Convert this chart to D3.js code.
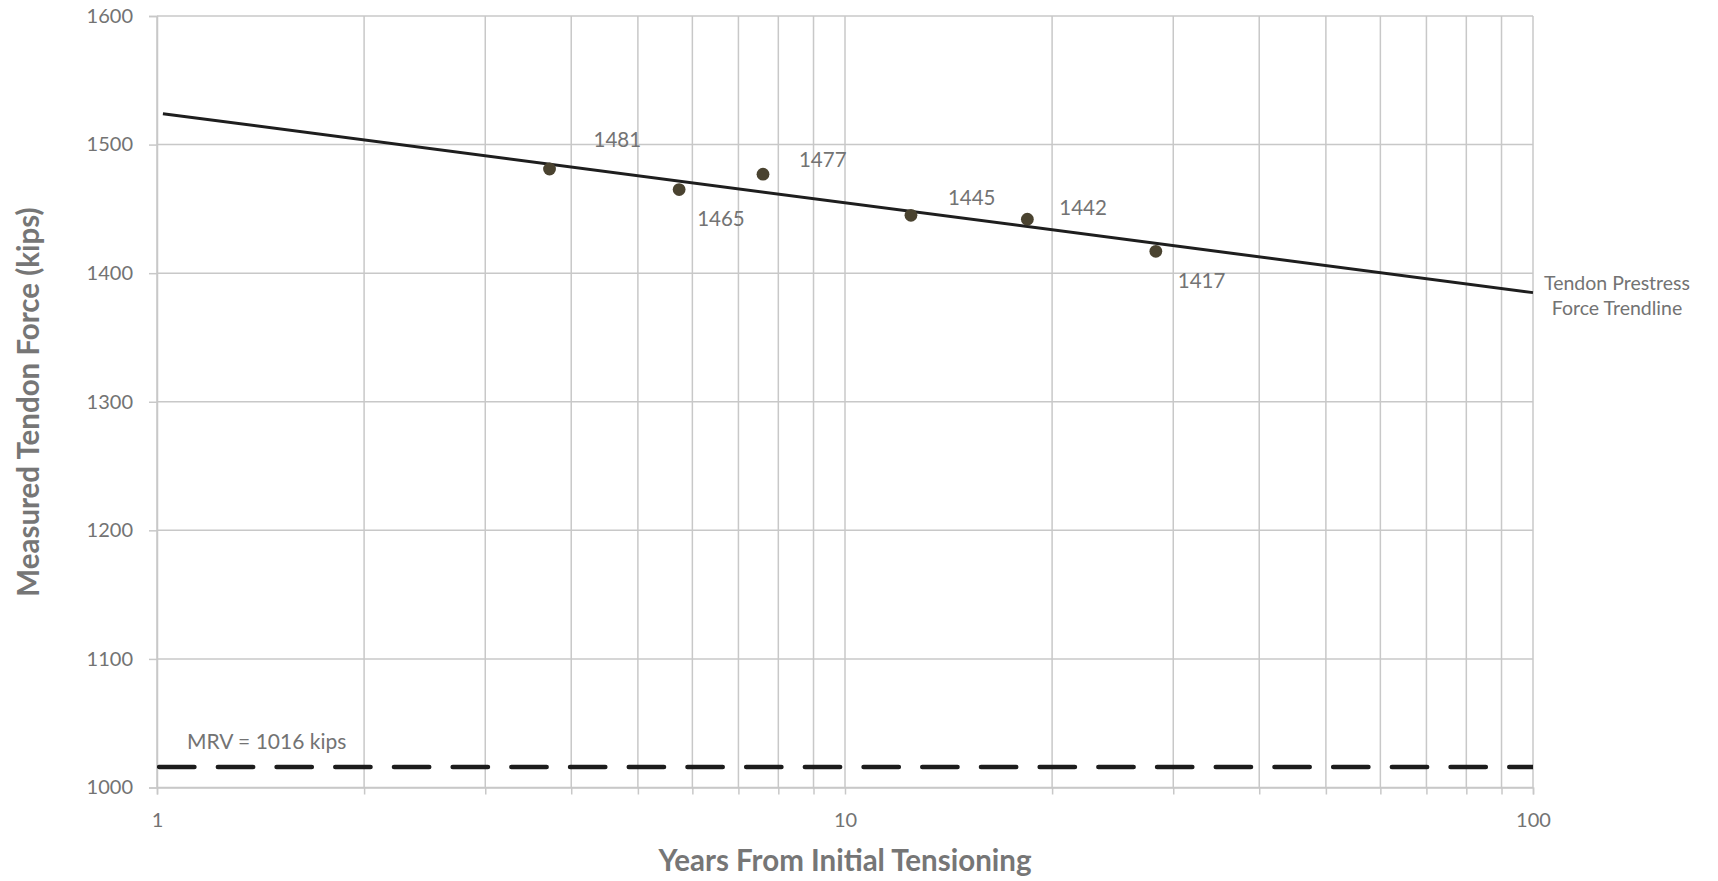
<!DOCTYPE html>
<html>
<head>
<meta charset="utf-8">
<script src="https://cdn.jsdelivr.net/npm/d3@7/dist/d3.min.js"></script>
<style>
  html, body { margin: 0; padding: 0; background: #ffffff; }
  svg { display: block; font-family: Lato, "Open Sans", sans-serif; }
</style>
</head>
<body>
<svg id="chart" width="1718" height="881"></svg>
<script>
// Measured tendon forces by age of tendon
const years = [3.72, 5.74, 7.60, 12.47, 18.41, 28.3];
const force = [1481, 1465, 1477, 1445, 1442, 1417];

// Axis ticks
const forceTicks = [1000, 1100, 1200, 1300, 1400, 1500, 1600];
const yearTicks = [1, 2, 3, 4, 5, 6, 7, 8, 9, 10, 20, 30, 40, 50, 60, 70, 80, 90, 100];
const yearLabels = [1, 10, 100];

// Minimum required value and trendline span
const mrv = 1016;
const trendSpan = [1.02, 100];

// Label placement relative to each point (dx, dy in px)
const labelOffsets = [[44, -30], [18, 28], [36, -15], [37, -18], [32, -12], [22, 29]];

const svg = d3.select("#chart");
const plotLeft = 157, plotRight = 1533, plotTop = 16, plotBottom = 787.5;

const x = d3.scaleLog().domain([1, 100]).range([plotLeft, plotRight]);
const y = d3.scaleLinear().domain([1000, 1600]).range([plotBottom, plotTop]);

const gridColor = "#c8c8c8";
const textColor = "#737373";

// Horizontal gridlines
svg.append("g").selectAll("line").data(forceTicks).join("line")
  .attr("x1", plotLeft).attr("x2", plotRight)
  .attr("y1", d => y(d)).attr("y2", d => y(d))
  .attr("stroke", gridColor).attr("stroke-width", 1.5);

// Vertical gridlines
svg.append("g").selectAll("line").data(yearTicks).join("line")
  .attr("x1", d => x(d)).attr("x2", d => x(d))
  .attr("y1", plotTop).attr("y2", plotBottom)
  .attr("stroke", gridColor).attr("stroke-width", 1.5);

// Y axis
const yAxis = d3.axisLeft(y).tickValues(forceTicks).tickSize(8).tickPadding(16)
  .tickFormat(d3.format("d"));
const gy = svg.append("g").attr("transform", `translate(${plotLeft},0)`).call(yAxis);
gy.select(".domain").attr("stroke", gridColor).attr("stroke-width", 1.5);
gy.selectAll(".tick line").attr("stroke", gridColor).attr("stroke-width", 1.5);
gy.selectAll(".tick text").attr("fill", textColor).style("font-size", "20px")
  .style("font-family", "Lato, sans-serif");

// X axis
const xAxis = d3.axisBottom(x).tickValues(yearTicks).tickSize(7).tickPadding(18)
  .tickFormat(d => yearLabels.includes(d) ? String(d) : "");
const gx = svg.append("g").attr("transform", `translate(0,${plotBottom})`).call(xAxis);
gx.select(".domain").attr("stroke", gridColor).attr("stroke-width", 1.5);
gx.selectAll(".tick line").attr("stroke", gridColor).attr("stroke-width", 1.5);
gx.selectAll(".tick text").attr("fill", textColor).style("font-size", "20px")
  .style("font-family", "Lato, sans-serif");

// Plot area clip
svg.append("clipPath").attr("id", "plot-clip").append("rect")
  .attr("x", plotLeft).attr("y", plotTop)
  .attr("width", plotRight - plotLeft).attr("height", plotBottom - plotTop);

// MRV dashed line
svg.append("line")
  .attr("clip-path", "url(#plot-clip)")
  .attr("x1", x(1) + 2.2).attr("x2", x(100) + 10)
  .attr("y1", y(mrv)).attr("y2", y(mrv))
  .attr("stroke", "#1c1c1c").attr("stroke-width", 4.6)
  .attr("stroke-linecap", "round")
  .attr("stroke-dasharray", "35.2 23.5");

svg.append("text")
  .attr("x", x(1) + 30).attr("y", y(mrv) - 26)
  .attr("dominant-baseline", "central")
  .attr("fill", textColor).style("font-size", "21px")
  .text(`MRV = ${mrv} kips`);

// Logarithmic least-squares trendline: force = a + b * log10(years)
const lx = years.map(Math.log10);
const mx = d3.mean(lx), my = d3.mean(force);
const b = d3.sum(lx, (v, i) => (v - mx) * (force[i] - my)) / d3.sum(lx, v => (v - mx) ** 2);
const a = my - b * mx;
const trend = t => a + b * Math.log10(t);

svg.append("path")
  .datum(trendSpan)
  .attr("d", d3.line().x(d => x(d)).y(d => y(trend(d))))
  .attr("fill", "none").attr("stroke", "#1e1e1e").attr("stroke-width", 3);

const trendLabel = svg.append("text")
  .attr("x", 1617).attr("y", 283)
  .attr("text-anchor", "middle")
  .attr("fill", textColor).style("font-size", "19.5px");
trendLabel.append("tspan").attr("x", 1617).attr("dy", "0.35em").text("Tendon Prestress");
trendLabel.append("tspan").attr("x", 1617).attr("dy", "1.3em").text("Force Trendline");

// Data points
const pts = years.map((t, i) => ({ t, f: force[i], off: labelOffsets[i] }));
svg.append("g").selectAll("circle").data(pts).join("circle")
  .attr("cx", d => x(d.t)).attr("cy", d => y(d.f)).attr("r", 6.4)
  .attr("fill", "#4a4330");

// Data labels
svg.append("g").selectAll("text").data(pts).join("text")
  .attr("x", d => x(d.t) + d.off[0]).attr("y", d => y(d.f) + d.off[1])
  .attr("dominant-baseline", "central")
  .attr("fill", textColor).style("font-size", "20.5px")
  .text(d => d.f);

// Axis titles
svg.append("text")
  .attr("x", (plotLeft + plotRight) / 2).attr("y", 871)
  .attr("text-anchor", "middle")
  .attr("fill", "#767676").style("font-size", "29.5px").style("font-weight", "bold")
  .text("Years From Initial Tensioning");

svg.append("text")
  .attr("transform", "translate(39,402) rotate(-90)")
  .attr("text-anchor", "middle")
  .attr("fill", "#767676").style("font-size", "29.5px").style("font-weight", "bold")
  .text("Measured Tendon Force (kips)");
</script>
</body>
</html>
